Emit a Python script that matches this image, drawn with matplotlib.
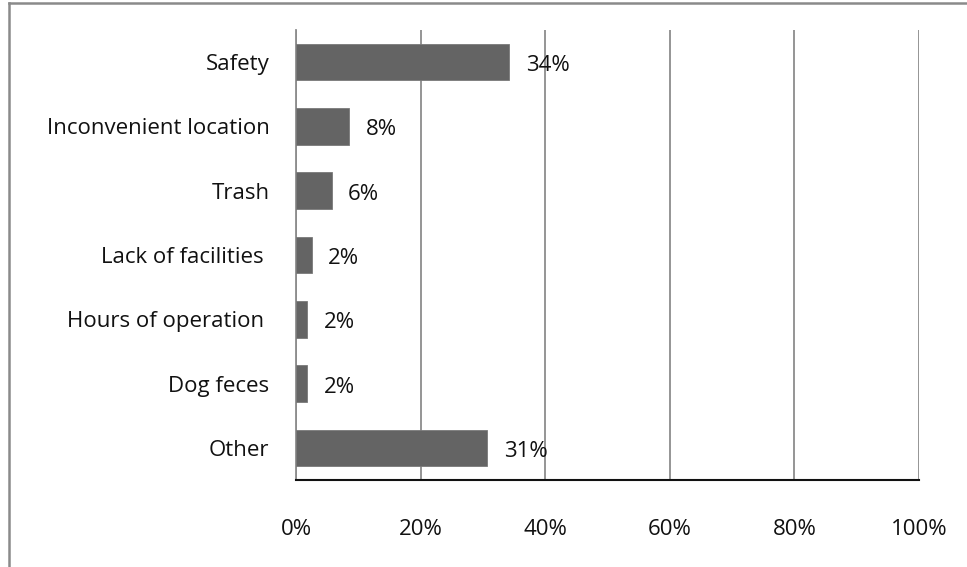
import matplotlib
matplotlib.use("Agg")
import matplotlib.pyplot as plt
from matplotlib.lines import Line2D

# Reasons for not using the park (share of respondents)
categories = ["Safety", "Inconvenient location", "Trash", "Lack of facilities ",
              "Hours of operation ", "Dog feces", "Other"]
shares = [34.2, 8.5, 5.7, 2.5, 1.8, 1.8, 30.7]
xticks = [0, 20, 40, 60, 80, 100]

plt.rcParams['font.family'] = ['Open Sans', 'DejaVu Sans']
FS = 16

W, H = 967, 567
fig = plt.figure(figsize=(W / 100, H / 100), dpi=100)
ax = fig.add_axes([296 / W, 1 - 480 / H, (919 - 296) / W, (480 - 30) / H])

pos = list(range(len(categories)))
ax.barh(pos, shares, height=0.57, color='#646464', edgecolor='#7a7a7a', linewidth=0.6, zorder=3)

# value labels just right of each bar
for y, v in zip(pos, shares):
    ax.annotate(f"{v:.0f}%", xy=(v, y), xytext=(12, -2.5), textcoords='offset points',
                ha='left', va='center', fontsize=FS, color='#111111', zorder=4)

ax.set_ylim(len(categories) - 0.5, -0.5)
ax.set_xlim(0, 100)
ax.set_yticks(pos)
ax.set_yticklabels(categories)
ax.set_xticks(xticks)
ax.set_xticklabels([f"{t}%" for t in xticks])

ax.tick_params(axis='y', length=0, pad=19, labelsize=FS, labelcolor='#111111')
ax.tick_params(axis='x', length=0, pad=28, labelsize=FS, labelcolor='#111111')

ax.grid(axis='x', color='#8c8c8c', linewidth=1.3, zorder=0)
ax.set_axisbelow(True)
for side in ['top', 'right']:
    ax.spines[side].set_visible(False)
ax.spines['left'].set_color('#8c8c8c')
ax.spines['left'].set_linewidth(1.3)
ax.spines['bottom'].set_color('#111111')
ax.spines['bottom'].set_linewidth(1.5)

# chart frame (left and top edges)
fig.add_artist(Line2D([8.5 / W, 8.5 / W], [0, 1 - 3 / H], transform=fig.transFigure,
                      color='#8a8a8a', linewidth=1.8))
fig.add_artist(Line2D([8.5 / W, 1], [1 - 3 / H, 1 - 3 / H], transform=fig.transFigure,
                      color='#8a8a8a', linewidth=1.8))

fig.savefig("out.png", dpi=100)
